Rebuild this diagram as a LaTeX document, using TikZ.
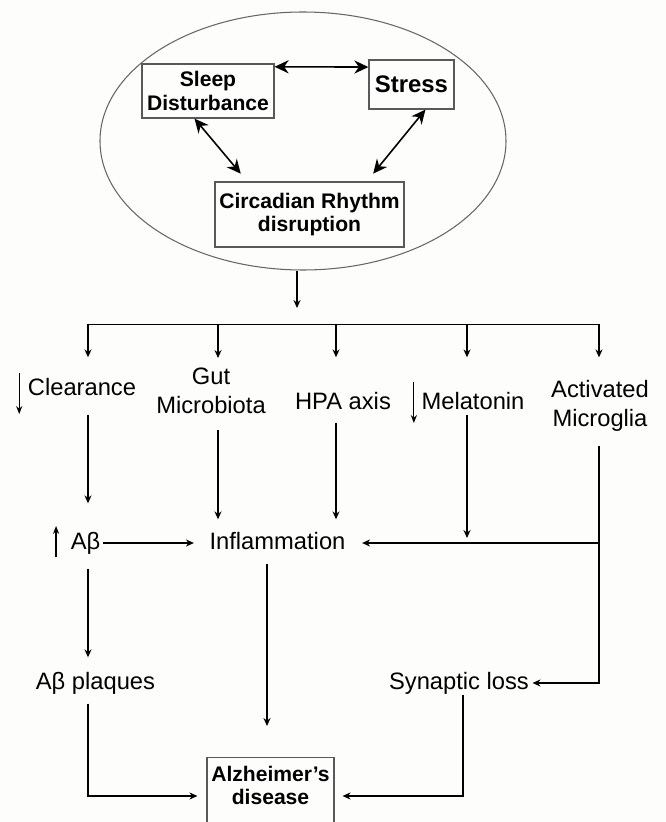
\documentclass[tikz,border=0pt]{standalone}
\usepackage{fontspec}
\setmainfont{Liberation Sans}
\usetikzlibrary{arrows.meta}
\usetikzlibrary{shapes.geometric}

\definecolor{paper}{RGB}{253,253,251}

\begin{document}
\begin{tikzpicture}[line width=0.8pt,
  lbl/.style={font=\fontsize{13.5}{16.4}\selectfont, inner sep=0pt, text height=0.35cm, text depth=0.1cm},
  lbltwo/.style={font=\fontsize{13.5}{16.4}\selectfont, inner sep=0pt, align=center},
  bbox/.style={draw=black!65, line width=0.7pt, inner sep=0pt, align=center, font=\bfseries\fontsize{12}{13.4}\selectfont},
  arr/.style={-{Stealth[length=4.5pt,width=4pt]}},
  dbl/.style={line width=0.9pt,{Stealth[length=8pt,width=7.5pt]}-{Stealth[length=8pt,width=7.5pt]}},
  ind/.style={line width=0.7pt,-{Stealth[length=4.5pt,width=3.5pt]}}]
\useasboundingbox (0,0) rectangle (13.32,16.44);
\fill[paper] (0,0) rectangle (13.32,16.44);
\clip (0,0) rectangle (13.32,16.44);

\node[ellipse,draw=black!60,line width=0.6pt,inner sep=0pt,minimum width=8.12cm,minimum height=5.16cm] (cycle) at (6.06,13.62) {};
\node[bbox,minimum width=2.64cm,minimum height=1.08cm] (sleep) at (4.16,14.62) {Sleep\\Disturbance};
\node[bbox,minimum width=1.70cm,minimum height=0.98cm,font=\bfseries\fontsize{13.6}{15}\selectfont] (stress) at (8.23,14.75) {Stress};
\node[bbox,minimum width=3.78cm,minimum height=1.30cm] (circ) at (6.19,12.15) {Circadian Rhythm\\disruption};

\draw[dbl] (sleep.20) -- (stress.158);
\draw[dbl,shorten >=0.2cm] (sleep.244) -- (circ.152);
\draw[dbl,shorten >=0.2cm] (stress.299) -- (circ.30);

\coordinate (fork) at (5.94,9.95);
\coordinate (b1) at (1.76,9.95);
\coordinate (b2) at (4.36,9.95);
\coordinate (b3) at (6.72,9.95);
\coordinate (b4) at (9.34,9.95);
\coordinate (b5) at (11.98,9.95);
\draw[arr,shorten >=0.33cm] (cycle.south -| fork) -- (fork);
\draw (b1) -- (b5);

\node[lbl] (clear) at (1.64,8.66) {Clearance};
\node[lbltwo] (gut) at (4.22,8.625) {Gut\\Microbiota};
\node[lbl] (hpa) at (6.86,8.38) {HPA axis};
\node[lbl] (mela) at (9.46,8.38) {Melatonin};
\node[lbltwo] (micro) at (12.0,8.32) {Activated\\Microglia};

\draw[arr,shorten >=0.395cm] (b1) -- (clear.north -| b1);
\draw[arr,shorten >=0.185cm] (b2) -- (gut.north -| b2);
\draw[arr,shorten >=0.675cm] (b3) -- (hpa.north -| b3);
\draw[arr,shorten >=0.675cm] (b4) -- (mela.north -| b4);
\draw[arr,shorten >=0.45cm] (b5) -- (micro.north -| b5);

\draw[ind] ([shift={(-0.16,0.32)}]clear.west) -- ++(0,-0.82);
\draw[ind] ([shift={(-0.14,0.42)}]mela.west) -- ++(0,-0.82);

\node[lbl] (ab) at (1.71,5.58) {Aβ};
\node[lbl] (infl) at (5.55,5.58) {Inflammation};
\node[lbl] (plaq) at (1.91,2.78) {Aβ plaques};
\node[lbl] (syn) at (9.18,2.78) {Synaptic loss};
\node[bbox,anchor=north,minimum width=2.54cm,inner xsep=0.06cm,inner ysep=0.17cm,text depth=1.2cm] (alz) at (5.41,1.30) {Alzheimer’s\\disease};
\coordinate (join) at (11.98,5.58);
\coordinate (adin) at (5.41,0.52);

\draw[ind] ([shift={(-0.28,-0.28)}]ab.west) -- ++(0,0.62);

\draw[arr,shorten <=0.275cm,shorten >=0.555cm] (clear.south -| b1) -- (ab.north -| b1);
\draw[arr,shorten <=0.32cm,shorten >=0.235cm] (gut.south -| b2) -- (infl.north -| b2);
\draw[arr,shorten <=0.155cm,shorten >=0.235cm] (hpa.south -| b3) -- (infl.north -| b3);
\draw[arr,shorten >=0.1cm] (mela.south -| b4) -- (join -| b4);
\draw[arr,shorten <=0.27cm,shorten >=0.06cm] (micro.south -| b5) |- (syn.east);
\draw[arr,shorten >=0.32cm] (join) -- (infl.east);
\draw[arr,shorten <=0.04cm,shorten >=0.3cm] (ab.east) -- (infl.west);
\draw[arr,shorten <=0.275cm,shorten >=0.275cm] (ab.south -| b1) -- (plaq.north -| b1);
\draw[arr,shorten <=0.175cm,shorten >=0.62cm] ([xshift=-0.21cm]infl.south) -- ([xshift=-0.21cm]infl.south |- alz.north);
\draw[arr,shorten <=0.175cm,shorten >=0.18cm] (plaq.south -| b1) |- (alz.west |- adin);
\draw[arr,shorten >=0.16cm] ([xshift=0.08cm]syn.south) |- (alz.east |- adin);

\end{tikzpicture}
\end{document}
